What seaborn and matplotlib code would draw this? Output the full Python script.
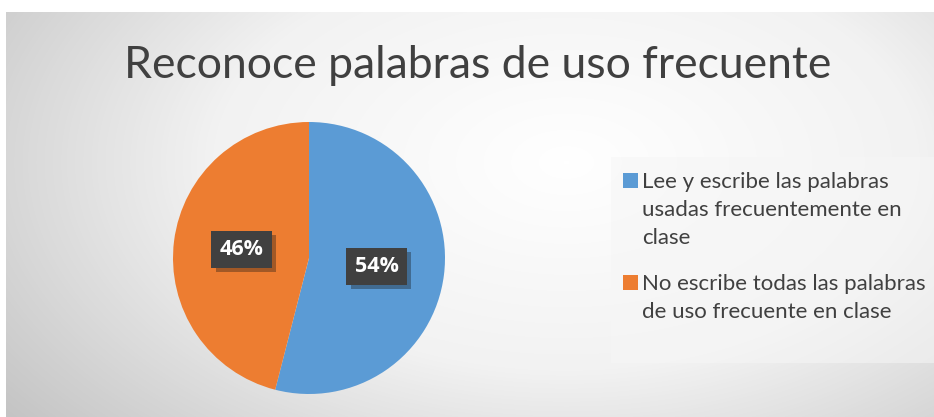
import numpy as np
import matplotlib
matplotlib.use("Agg")
import matplotlib.pyplot as plt
import matplotlib.patheffects as pe
from matplotlib.patches import Rectangle
from matplotlib.colors import LinearSegmentedColormap
import seaborn as sns

title = "Reconoce palabras de uso frecuente"
categories = ["Lee y escribe las palabras\nusadas frecuentemente en\nclase",
              "No escribe todas las palabras\nde uso frecuente en clase"]
values = [54, 46]
colors = ["#5B9BD5", "#ED7D31"]

sns.set_theme(style="white")
plt.rcParams["font.family"] = ["Lato", "DejaVu Sans"]

W, H = 934, 417
fig = plt.figure(figsize=(W / 100, H / 100), dpi=100)
fig.patch.set_facecolor("white")

# panel with radial gradient background (pixel coords, y down)
bg = fig.add_axes([6 / W, 0, (W - 6) / W, (H - 12) / H])
bg.set_axis_off()
yy, xx = np.mgrid[0:405, 0:928]
d = np.sqrt(((xx - 560) / 560.0) ** 2 + ((yy - 150) / 330.0) ** 2)
d = np.clip(d / d.max(), 0, 1)
cmap = LinearSegmentedColormap.from_list("bg", ["#ffffff", "#f2f2f2", "#c4c4c4"])
bg.imshow(d, cmap=cmap, aspect="auto", extent=[6, 934, 417, 12], interpolation="bilinear")
bg.set_xlim(6, 934)
bg.set_ylim(417, 12)

bg.text(478, 66, title, ha="center", va="center", fontsize=32, color="#404040")

# legend box drawn by hand so the marker sits on the first line
bg.add_patch(Rectangle((611, 157), 323, 206, facecolor="#f6f6f6", alpha=0.55,
                       edgecolor="none"))
ys = [187, 289]
for lab, col, yb in zip(categories, colors, ys):
    bg.add_patch(Rectangle((623, yb - 14.5), 15, 15, facecolor=col, edgecolor="none"))
    bg.text(642, yb - 14.5, lab, ha="left", va="top", fontsize=16, color="#404040",
            linespacing=1.5)

# pie
cx, cy, r = 309, 258, 136
ax = fig.add_axes([(cx - r) / W, 1 - (cy + r) / H, 2 * r / W, 2 * r / H])
wedges, texts, autotexts = ax.pie(values, colors=colors, startangle=90, counterclock=False,
                                  autopct="%1.0f%%", pctdistance=0.5,
                                  wedgeprops=dict(linewidth=0))
ax.set_xlim(-1, 1)
ax.set_ylim(-1, 1)
ax.set_aspect("auto")
for t in autotexts:
    t.set_color("white")
    t.set_fontsize(15.5)
    t.set_fontfamily("Open Sans")
    t.set_fontweight("bold")
    t.set_bbox(dict(boxstyle="square,pad=0.38", facecolor="#404040", edgecolor="#404040",
                    linewidth=0))
    t.get_bbox_patch().set_path_effects([pe.SimplePatchShadow(offset=(3, -3), alpha=0.35),
                                         pe.Normal()])

fig.savefig("out.png", dpi=100)
